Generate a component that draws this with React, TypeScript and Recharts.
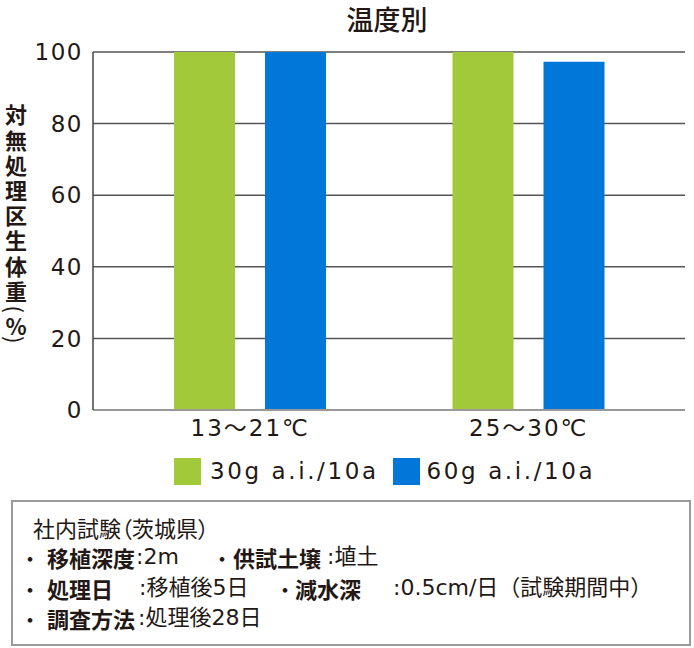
import { BarChart, Bar, XAxis, YAxis, CartesianGrid } from 'recharts';

const categories = ['13〜21℃', '25〜30℃'];
const dose30 = [100, 100];
const dose60 = [100, 97.3];
const yTicks = [0, 20, 40, 60, 80, 100];

const seriesNames = ['30g a.i./10a', '60g a.i./10a'];
const GREEN = '#a2c93a';
const BLUE = '#0077d9';
const INK = '#231815';
const CJK = '"Noto Sans CJK JP", "Noto Sans", sans-serif';
const LATIN = '"DejaVu Sans", "Noto Sans CJK JP", sans-serif';

const data = categories.map((name, i) => ({ name, d30: dose30[i], d60: dose60[i] }));

const yLabelMain = '対無処理区生体重';
const yLabelUnit = '%';

// notes: [left, text, kind]  b=bold kanji, l=latin mix, c=cjk, d=bullet
type Seg = [number, string, 'b' | 'l' | 'c' | 'd'];
const noteLines: Seg[][] = [
  [[33, '社内試験（茨城県）', 'c']],
  [[19, '・', 'd'], [47, '移植深度', 'b'], [136, ':2m', 'l'], [211, '・', 'd'], [233, '供試土壌', 'b'], [327, ':埴土', 'l']],
  [[19, '・', 'd'], [47, '処理日', 'b'], [139, ':移植後5日', 'l'], [274, '・', 'd'], [295, '減水深', 'b'], [393, ':0.5cm/日（試験期間中）', 'l']],
  [[19, '・', 'd'], [47, '調査方法', 'b'], [138, ':処理後28日', 'l']],
];
const noteTops = [512, 542, 573, 603];

export default function App() {
  return (
    <div style={{ position: 'absolute', left: 0, top: 0, width: 694, height: 648, background: '#fff', fontFamily: CJK, color: INK }}>
      <div style={{ position: 'absolute', left: 80, width: 614, top: 3, textAlign: 'center', fontSize: 27, fontWeight: 500, lineHeight: '32px' }}>
        温度別
      </div>

      <div
        style={{
          position: 'absolute',
          left: 3,
          top: 104,
          height: 270,
          fontSize: 22,
          fontWeight: 700,
          lineHeight: '26px',
          letterSpacing: 3.2,
          writingMode: 'vertical-rl',
          whiteSpace: 'nowrap',
        }}
      >
        {yLabelMain}
        <span style={{ fontWeight: 400, letterSpacing: 1 }}>(</span>
        <span style={{ textCombineUpright: 'all', letterSpacing: 0 } as any}>{yLabelUnit}</span>
        <span style={{ fontWeight: 400, letterSpacing: 0 }}>)</span>
      </div>

      <div style={{ position: 'absolute', left: 0, top: 0 }}>
        <BarChart width={694} height={450} data={data} margin={{ top: 52, right: 9, bottom: 0, left: 0 }} barSize={61} barGap={30}>
          <CartesianGrid vertical={false} stroke="#555" strokeWidth={1.5} />
          <XAxis
            dataKey="name"
            height={40}
            padding={{ left: 18, right: 17 }}
            axisLine={{ stroke: '#999', strokeWidth: 2 }}
            tickLine={false}
            tick={{ fontSize: 23, fill: INK, fontFamily: LATIN, letterSpacing: 2 }}
            tickMargin={4}
          />
          <YAxis
            width={93}
            domain={[0, 100]}
            ticks={yTicks}
            axisLine={{ stroke: '#444', strokeWidth: 1.5 }}
            tickLine={false}
            tickMargin={4}
            tick={{ fontSize: 23, fill: INK, fontFamily: LATIN, letterSpacing: 1.5 }}
          />
          <Bar dataKey="d30" name={seriesNames[0]} fill={GREEN} isAnimationActive={false} />
          <Bar dataKey="d60" name={seriesNames[1]} fill={BLUE} isAnimationActive={false} />
        </BarChart>
      </div>

      <div style={{ position: 'absolute', left: 174, top: 458, display: 'flex', alignItems: 'center', fontSize: 23, lineHeight: '27px', fontFamily: LATIN, letterSpacing: 2.6 }}>
        <span style={{ width: 27, height: 27, background: GREEN, display: 'inline-block', marginRight: 9 }} />
        <span style={{ marginRight: 14 }}>{seriesNames[0]}</span>
        <span style={{ width: 27, height: 27, background: BLUE, display: 'inline-block', marginRight: 7 }} />
        <span>{seriesNames[1]}</span>
      </div>

      <div style={{ position: 'absolute', left: 11, top: 500, width: 676, height: 142, border: '2px solid #9a9a9a' }} />
      {noteLines.map((line, li) => (
        <div key={li} style={{ position: 'absolute', left: 0, top: noteTops[li], height: 30, width: 694 }}>
          {line.map(([x, text, kind], si) => (
            <span
              key={si}
              style={{
                position: 'absolute',
                left: x,
                top: 0,
                fontSize: 22,
                lineHeight: '30px',
                whiteSpace: 'pre',
                fontWeight: kind === 'b' ? 700 : 400,
                fontFamily: kind === 'l' ? LATIN : CJK,
                fontFeatureSettings: kind === 'c' ? '"palt"' : undefined,
              }}
            >
              {text}
            </span>
          ))}
        </div>
      ))}
    </div>
  );
}
